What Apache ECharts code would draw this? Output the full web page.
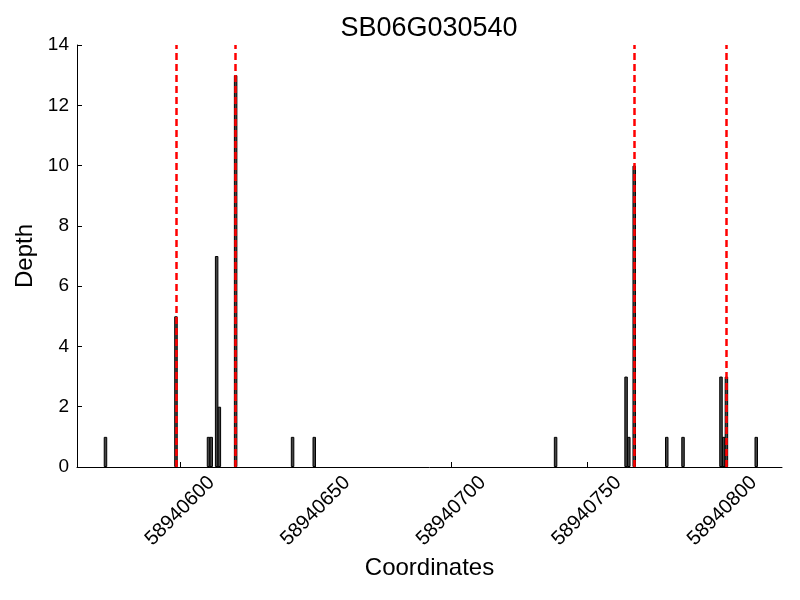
<!DOCTYPE html>
<html>
<head>
<meta charset="utf-8">
<script src="https://cdn.jsdelivr.net/npm/echarts@6/dist/echarts.min.js"></script>
<style>html,body{margin:0;padding:0;background:#fff}#c{width:800px;height:600px}</style>
</head>
<body>
<div id="c"></div>
<script>
const chartTitle = 'SB06G030540';
const positions = [58940572, 58940598, 58940610, 58940611, 58940613, 58940614, 58940620, 58940641, 58940649, 58940738, 58940764, 58940765, 58940767, 58940779, 58940785, 58940799, 58940800, 58940801, 58940812];
const depths = [1, 5, 1, 1, 7, 2, 13, 1, 1, 1, 3, 1, 10, 1, 1, 3, 1, 3, 1];
const markers = [58940598, 58940620, 58940767, 58940801];
const xMin = 58940562, xMax = 58940822;
const yMin = 0, yMax = 14, yStep = 2;
// each base covers [pos, pos+1]; marks are drawn at the middle of that span
const binCenter = 0.5;

const font = 'Liberation Sans, Arial, sans-serif';
const chart = echarts.init(document.getElementById('c'), null, {renderer: 'canvas'});
chart.setOption({
  animation: false,
  backgroundColor: '#fff',
  grid: {left: 77, right: 18, top: 45, bottom: 133, containLabel: false, outerBoundsMode: 'none'},
  graphic: [{
    type: 'text', x: 429, y: 29,
    style: {text: chartTitle, textAlign: 'center', textVerticalAlign: 'middle', fontSize: 27, fontFamily: font, fill: '#000'}
  }],
  xAxis: {
    type: 'value', min: xMin, max: xMax, splitNumber: 5,
    name: 'Coordinates', nameLocation: 'middle', nameGap: 88,
    nameTextStyle: {fontSize: 24, fontFamily: font, color: '#000'},
    axisLine: {lineStyle: {color: '#000', width: 1}},
    axisTick: {inside: true, length: 5, lineStyle: {color: '#000'}},
    splitLine: {show: false},
    axisLabel: {
      rotate: 45, align: 'center', verticalAlign: 'middle', margin: 44,
      fontSize: 20, fontFamily: font, color: '#000',
      showMinLabel: false, showMaxLabel: false,
      formatter: v => (v % 50 === 0 ? String(v) : '')
    }
  },
  yAxis: {
    type: 'value', min: yMin, max: yMax, interval: yStep,
    name: 'Depth', nameLocation: 'middle', nameGap: 35, nameRotate: 90,
    nameTextStyle: {fontSize: 24, fontFamily: font, color: '#000'},
    axisLine: {show: true, lineStyle: {color: '#000', width: 1}},
    axisTick: {show: true, inside: true, length: 5, lineStyle: {color: '#000'}},
    splitLine: {show: false},
    axisLabel: {fontSize: 19, fontFamily: font, color: '#000', margin: 8}
  },
  series: [{
    type: 'bar',
    barWidth: 3.5,
    data: positions.map((p, i) => [p + binCenter, depths[i]]),
    itemStyle: {color: '#444444', borderColor: '#000', borderWidth: 1},
    markLine: {
      silent: true, symbol: 'none', label: {show: false},
      lineStyle: {color: '#ff0000', type: [7, 4], width: 2.5},
      data: markers.map(m => ({xAxis: m + binCenter}))
    }
  }]
});
</script>
</body>
</html>
